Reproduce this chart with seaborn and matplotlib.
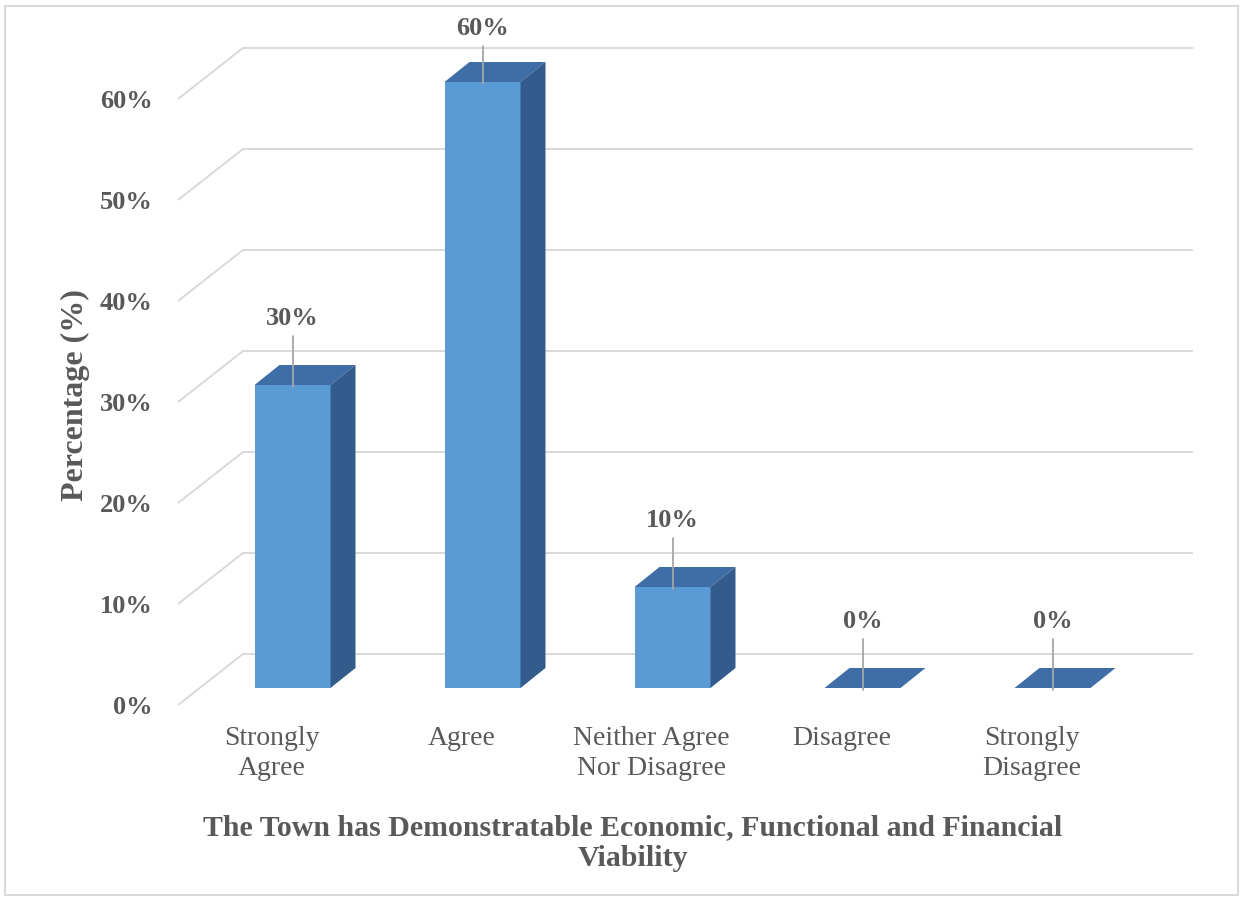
import numpy as np
import pandas as pd
import matplotlib
matplotlib.use("Agg")
import matplotlib.pyplot as plt
from matplotlib.patches import Polygon, Rectangle
import seaborn as sns

# ---- data -------------------------------------------------------------
categories = ["Strongly\nAgree", "Agree", "Neither Agree\nNor Disagree",
              "Disagree", "Strongly\nDisagree"]
percentages = [30, 60, 10, 0, 0]
y_ticks = [0, 10, 20, 30, 40, 50, 60]
x_title = "The Town has Demonstratable Economic, Functional and Financial\nViability"
y_title = "Percentage (%)"

# ---- style ------------------------------------------------------------
sns.set_theme(style="white")
plt.rcParams["font.family"] = ["Liberation Serif", "DejaVu Serif"]

TEXT = "#595959"
GRID = "#d9d9d9"
FRONT = "#5B9BD5"
TOP = "#3F6EA6"
SIDE = "#335C8C"
LEADER = "#a6a6a6"

W, H = 1242, 899
fig = plt.figure(figsize=(W / 100, H / 100), dpi=100)
fig.patch.set_facecolor("white")

# axes box (pixels)
left, right, top, bottom = 178, 1200, 20, 712
ax = fig.add_axes([left / W, 1 - bottom / H, (right - left) / W, (bottom - top) / H])

# pixel scale of the data space
px_cat = 190.0     # pixels per category step
px_pct = 10.1      # pixels per percentage point
cx0 = 292.5        # pixel x of the first category centre
vy0 = 688.0        # pixel y of value 0 on the bar front plane

# ---- front faces through seaborn --------------------------------------
df = pd.DataFrame({"response": categories, "pct": percentages})
bar_w = 0.4
sns.barplot(data=df, x="response", y="pct", color=FRONT, width=bar_w,
            saturation=1, ax=ax, zorder=3, linewidth=0, edgecolor="none")

ax.set_xlim((left - cx0) / px_cat, (right - cx0) / px_cat)
ax.set_ylim((vy0 - bottom) / px_pct, (vy0 - top) / px_pct)

# perspective offsets (data units)
depth_dx, depth_dy = 25 / px_cat, 20 / px_pct          # bar depth
front_dx, front_dy = (178 - cx0) / px_cat, -17 / px_pct  # floor front edge
back_dx, back_dy = (243 - cx0) / px_cat, 34 / px_pct     # back wall
wall_end = (1193 - cx0) / px_cat
label_shift = -21 / px_cat
label_ceiling = 65.3

# ---- 3-D gridlines (floor diagonal + back wall) ------------------------
for v in y_ticks:
    ax.plot([front_dx, back_dx, wall_end],
            [v + front_dy, v + back_dy, v + back_dy],
            color=GRID, lw=1.4, zorder=1, clip_on=False,
            solid_capstyle="butt")

# ---- top and side faces ------------------------------------------------
for i, v in enumerate(percentages):
    xl, xr = i - bar_w / 2, i + bar_w / 2
    top_face = Polygon([(xl, v), (xr, v), (xr + depth_dx, v + depth_dy),
                        (xl + depth_dx, v + depth_dy)],
                       closed=True, facecolor=TOP, edgecolor="none", zorder=3)
    ax.add_patch(top_face)
    if v > 0:
        side_face = Polygon([(xr, 0), (xr + depth_dx, depth_dy),
                             (xr + depth_dx, v + depth_dy), (xr, v)],
                            closed=True, facecolor=SIDE, edgecolor="none",
                            zorder=3)
        ax.add_patch(side_face)
    # value label with leader line
    ly = min(v + 6.6, label_ceiling)
    ax.plot([i, i], [v - 0.2, ly - 1.7], color=LEADER, lw=1.3, zorder=4)
    ax.text(i, ly, f"{v}%", ha="center", va="center", fontsize=19,
            fontweight="bold", color=TEXT, zorder=5)

# ---- axes text ---------------------------------------------------------
ax.set_yticks([v + front_dy for v in y_ticks],
              labels=[f"{v}%" for v in y_ticks])
ax.set_xticks([i + label_shift for i in range(len(categories))],
              labels=categories)
ax.tick_params(axis="y", length=0, pad=18, labelsize=19, labelcolor=TEXT)
ax.tick_params(axis="x", length=0, pad=10, labelsize=20, labelcolor=TEXT)
for t in ax.get_yticklabels():
    t.set_fontweight("bold")
for t in ax.get_xticklabels():
    t.set_linespacing(1.28)
ax.set_xlabel("")
ax.set_ylabel("")
for s in ax.spines.values():
    s.set_visible(False)
ax.set_facecolor("white")

fig.text(75 / W, 1 - 395 / H, y_title, rotation=90, ha="center", va="center",
         fontsize=23, fontweight="bold", color=TEXT)
fig.text(633 / W, 1 - 843 / H, x_title, ha="center", va="center",
         fontsize=21.5, fontweight="bold", color=TEXT, linespacing=1.18)

# outer frame
fig.patches.append(Rectangle((5 / W, 1 - 895 / H), (1238 - 5) / W, (895 - 6) / H,
                             transform=fig.transFigure, fill=False,
                             edgecolor=GRID, lw=1.5))

fig.savefig("out.png", dpi=100)
